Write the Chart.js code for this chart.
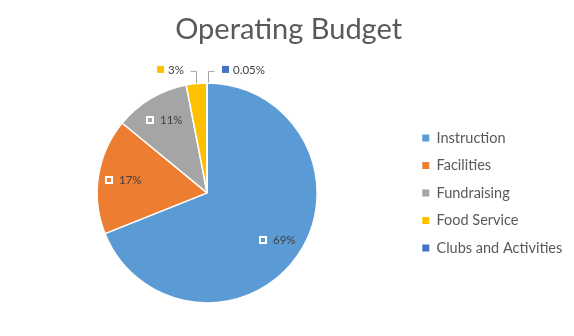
<!DOCTYPE html>
<html>
<head>
<meta charset="utf-8">
<script src="https://cdn.jsdelivr.net/npm/chart.js@4"></script>
<style>
  html, body { margin: 0; padding: 0; background: #fff; }
  #wrap { width: 574px; height: 336px; }
</style>
</head>
<body>
<div id="wrap"><canvas id="budgetChart"></canvas></div>
<script>
// --- data ---
const categories = ['Instruction', 'Facilities', 'Fundraising', 'Food Service', 'Clubs and Activities'];
const budgetShare = [69, 17, 11, 3, 0.05];
const shareLabels = ['69%', '17%', '11%', '3%', '0.05%'];
const sliceColors = ['#5B9BD5', '#ED7D31', '#A5A5A5', '#FFC000', '#4472C4'];

const FONT = 'Lato';

// labels on the slices (inside for big ones, outside with leader line for small ones)
const sliceLabels = {
  id: 'sliceLabels',
  afterDatasetsDraw(chart) {
    const ctx = chart.ctx;
    const meta = chart.getDatasetMeta(0);
    ctx.save();
    ctx.font = '11.5px ' + FONT;
    ctx.textBaseline = 'middle';
    ctx.textAlign = 'left';
    meta.data.forEach((arc, i) => {
      const p = arc.getProps(['x', 'y', 'startAngle', 'endAngle', 'outerRadius'], true);
      const mid = (p.startAngle + p.endAngle) / 2;
      const txt = shareLabels[i];
      const tw = ctx.measureText(txt).width;
      if (budgetShare[i] >= 5) {
        const lx = p.x + Math.cos(mid) * p.outerRadius * 0.77;
        const ly = p.y + Math.sin(mid) * p.outerRadius * 0.77;
        const left = Math.round(lx - (8 + 6 + tw) / 2);
        const sy = Math.round(ly);
        ctx.strokeStyle = '#fff';
        ctx.lineWidth = 2;
        ctx.strokeRect(left + 1, sy - 3, 6, 6);
        ctx.fillStyle = '#404040';
        ctx.fillText(txt, left + 14, sy + 0.5);
      } else {
        const r = p.outerRadius;
        const ax = p.x + Math.cos(mid) * r;
        const ay = p.y + Math.sin(mid) * r;
        const elbowY = p.y - r - 12;
        const dir = ax < p.x - 1 ? -1 : 1;
        const lineX = Math.round(ax) + (dir > 0 ? 1 : 0);
        const endX = lineX + dir * 6;
        ctx.strokeStyle = '#A6A6A6';
        ctx.lineWidth = 1;
        ctx.beginPath();
        ctx.moveTo(lineX + 0.5, ay);
        ctx.lineTo(lineX + 0.5, elbowY + 0.5);
        ctx.lineTo(endX + 0.5, elbowY + 0.5);
        ctx.stroke();
        const ty = elbowY - 1.5;
        const sqX = dir < 0 ? endX - 6 - tw - 11 : endX + 8;
        ctx.fillStyle = sliceColors[i];
        ctx.fillRect(sqX, ty - 3.5, 7, 7);
        ctx.fillStyle = '#404040';
        ctx.fillText(txt, sqX + 11, ty + 0.5);
      }
    });
    ctx.restore();
  }
};

const pieLabels = Chart.overrides.pie.plugins.legend.labels.generateLabels;

new Chart(document.getElementById('budgetChart'), {
  type: 'pie',
  data: {
    labels: categories,
    datasets: [{
      data: budgetShare,
      backgroundColor: sliceColors,
      borderColor: '#fff',
      borderWidth: 1.5,
      radius: 110
    }]
  },
  options: {
    responsive: true,
    maintainAspectRatio: false,
    animation: false,
    layout: { padding: { top: 0, left: 5, right: 1.75, bottom: 8 } },
    plugins: {
      title: {
        display: true,
        text: 'Operating Budget',
        color: '#595959',
        font: { family: FONT, size: 29, weight: 'normal' },
        padding: { top: 12, bottom: 11 }
      },
      legend: {
        position: 'right',
        align: 'center',
        fullSize: false,
        labels: {
          boxWidth: 7,
          boxHeight: 7,
          padding: 13,
          color: '#595959',
          font: { family: FONT, size: 14.5 },
          generateLabels(chart) {
            return pieLabels(chart).map(l => Object.assign(l, { lineWidth: 0, strokeStyle: 'transparent' }));
          }
        }
      },
      tooltip: { enabled: false }
    }
  },
  plugins: [sliceLabels]
});
</script>
</body>
</html>
